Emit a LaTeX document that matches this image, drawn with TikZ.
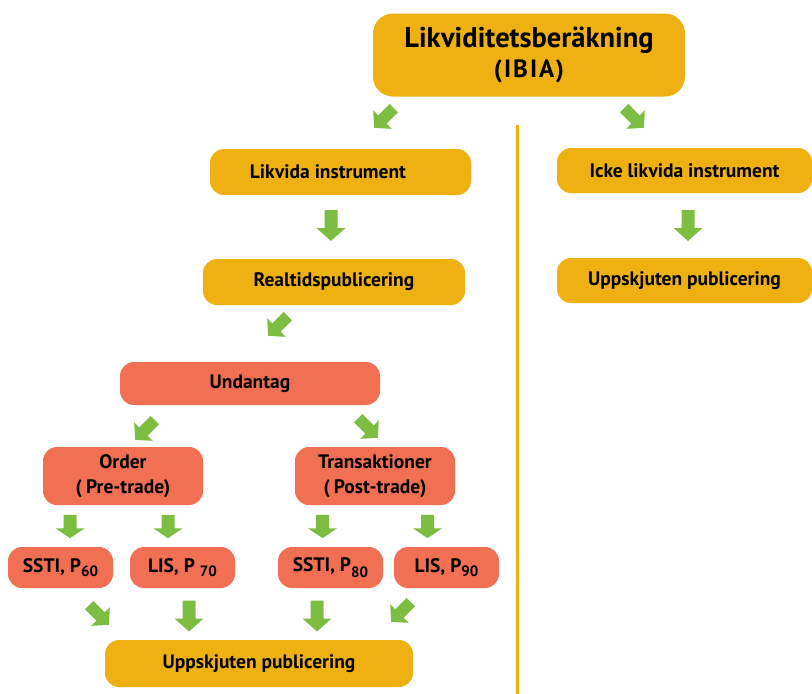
\documentclass[tikz,border=0pt]{standalone}
\usepackage{fontspec}
\setmainfont{PT Sans}
\definecolor{gold}{RGB}{239,177,18}
\definecolor{coral}{RGB}{241,111,82}
\definecolor{leaf}{RGB}{125,190,66}
\newcommand{\lowsub}[2]{\raisebox{#1}{\fontsize{15}{15}\selectfont #2}}
\begin{document}
\begin{tikzpicture}[x=1pt,y=-1pt,
  box/.style={fill=gold, rounded corners=14pt, inner sep=0pt, align=center,
    font=\bfseries\fontsize{19.5}{25}\selectfont},
  rbox/.style={box, fill=coral},
  garrow/.pic={\fill[leaf] (-15.5,-6.5) -- (2.5,-6.5) -- (2.5,-14.5) -- (15.5,0) -- (2.5,14.5) -- (2.5,6.5) -- (-15.5,6.5) -- cycle;},
  divider/.style={draw=gold, line width=3pt}]
\useasboundingbox (0,0) rectangle (812,694);

% boxes
\node[box, rounded corners=20pt, minimum width=312pt, minimum height=83pt] (top) at (529,55)
  {{\fontsize{28.5}{31}\selectfont Likviditetsberäkning}\\[5pt]{\fontsize{25}{30}\selectfont\addfontfeature{LetterSpace=8}(IBIA)}};
\node[box, minimum width=261pt, minimum height=46pt] (likv) at (340.5,172) {\hspace*{-25pt}Likvida instrument};
\node[box, minimum width=262pt, minimum height=46pt] (real) at (334,282) {Realtidspublicering};
\node[box, minimum width=255pt, minimum height=45pt] (icke) at (684.5,170.5) {Icke likvida instrument};
\node[box, minimum width=255pt, minimum height=45pt] (uppr) at (684.5,280.5) {Uppskjuten publicering};

\node[rbox, minimum width=260pt, minimum height=43pt] (undt) at (250,383.5) {Undantag};
\node[rbox, minimum width=160pt, minimum height=58pt] (order) at (123,476) {Order\\(\hspace{4pt}Pre-trade)};
\node[rbox, minimum width=160pt, minimum height=58pt] (trans) at (375,476) {Transaktioner\\(\hspace{4pt}Post-trade)};

\node[rbox, minimum width=105pt, minimum height=41pt] (s60) at (60.5,567.5) {SSTI, P\lowsub{-4pt}{60}};
\node[rbox, minimum width=105pt, minimum height=41pt] (l70) at (182.5,567.5) {LIS, P \lowsub{-4pt}{70}};
\node[rbox, minimum width=105pt, minimum height=41pt] (s80) at (330.5,567.5) {SSTI, P\lowsub{-6pt}{80}};
\node[rbox, minimum width=105pt, minimum height=41pt] (l90) at (446.5,567.5) {LIS, P\lowsub{-4pt}{90}};

\node[box, minimum width=308pt, minimum height=47pt] (uppl) at (259,663.5) {Uppskjuten publicering};

% divider
\coordinate (dtop) at (517,125);
\coordinate (dbot) at (517,694);
\draw[divider] (dtop) -- (dbot);

% green block arrows
\pic[rotate=-135, scale=0.9] at (384,118) {garrow};
\pic[rotate=-45, scale=0.9] at (634,118) {garrow};
\pic[rotate=-90] at (331,225.5) {garrow};
\pic[rotate=-90] at (688,225.5) {garrow};
\pic[rotate=-135, scale=0.9] at (278,326) {garrow};
\pic[rotate=-135, scale=0.9] at (145,430) {garrow};
\pic[rotate=-45, scale=0.9] at (368,428) {garrow};

\pic[rotate=-90, xscale=0.75] at (70,526.5) {garrow};
\pic[rotate=-90, xscale=0.75] at (168,526.5) {garrow};
\pic[rotate=-90, xscale=0.75] at (322.5,526.5) {garrow};
\pic[rotate=-90, xscale=0.75] at (427.5,526.5) {garrow};

\pic[rotate=-45, scale=0.9] at (99,615) {garrow};
\pic[rotate=-90] at (189,616) {garrow};
\pic[rotate=-90] at (317,616) {garrow};
\pic[rotate=-135, scale=0.9] at (401,612) {garrow};
\end{tikzpicture}
\end{document}
